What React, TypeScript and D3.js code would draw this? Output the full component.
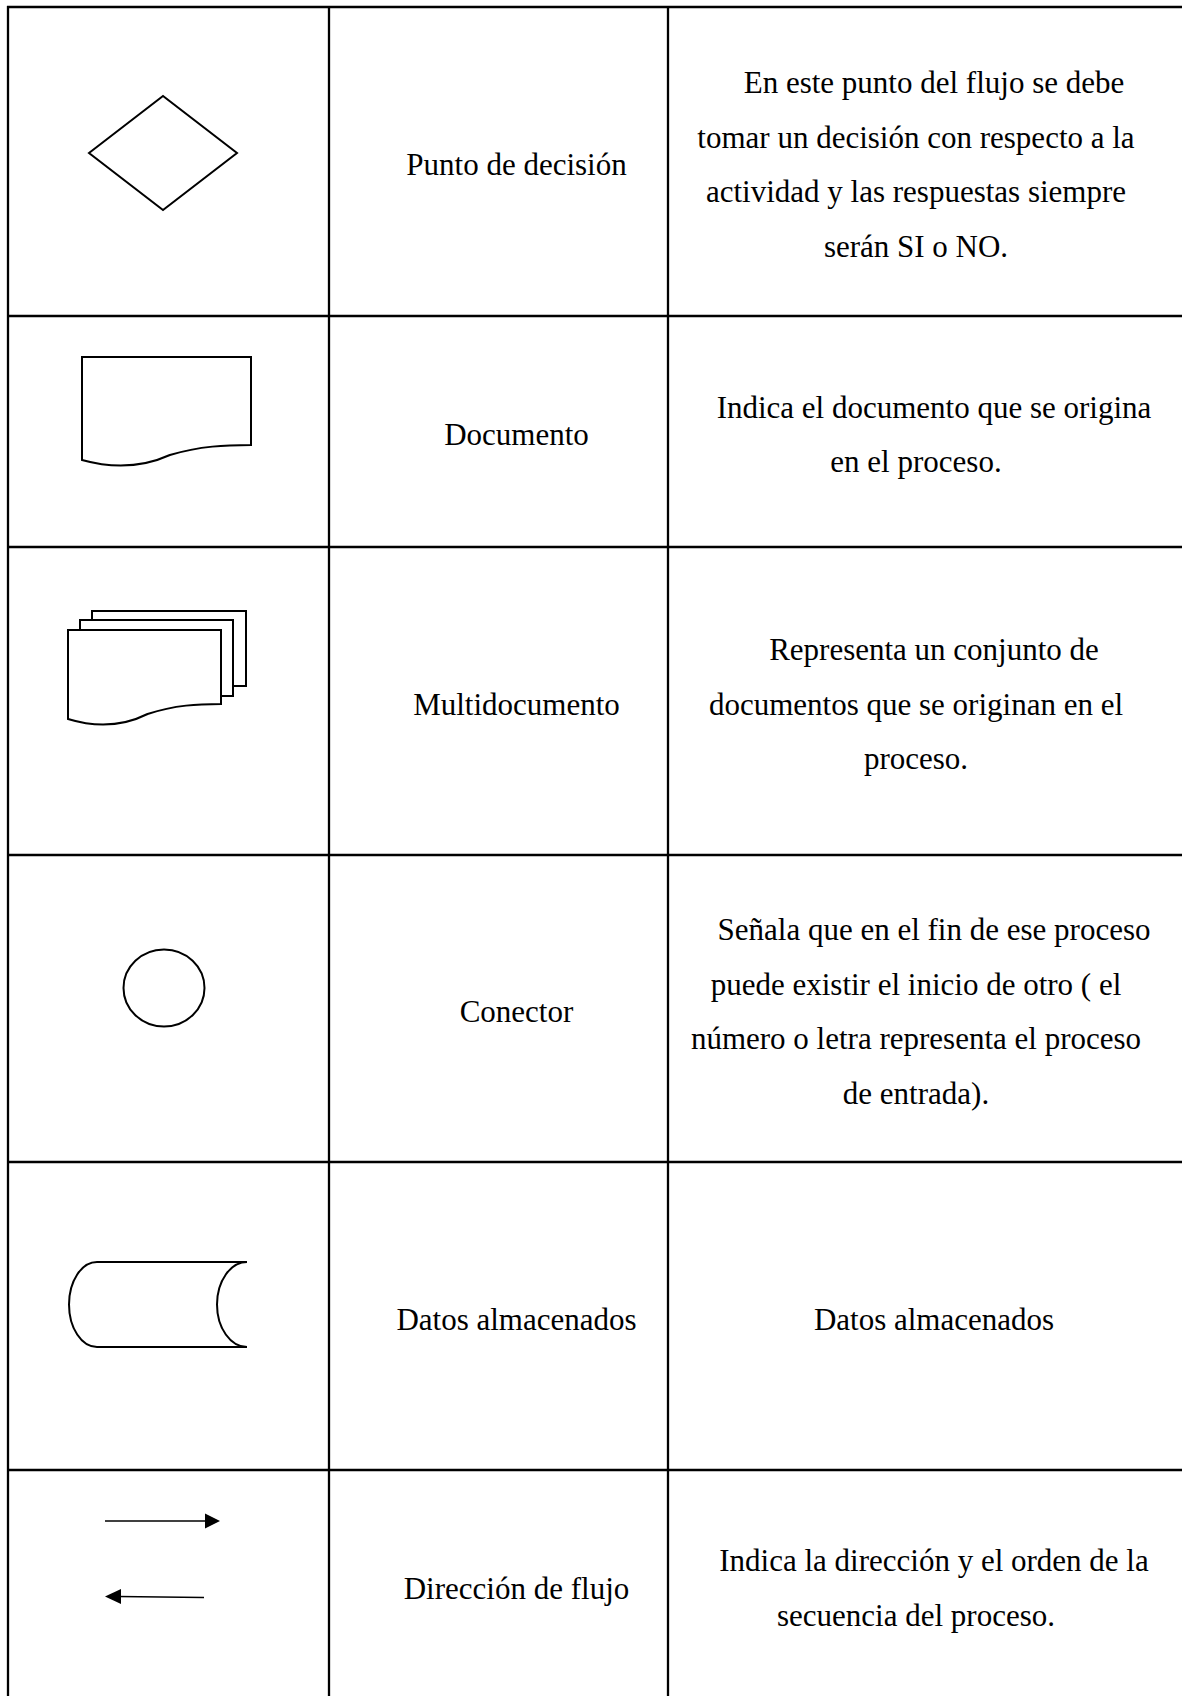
import React, { useEffect, useRef } from "react";
import * as d3 from "d3";

// table content
const symbols = ["decision", "document", "multidocument", "connector", "storedData", "flow"];

const names = [
  "Punto de decisión",
  "Documento",
  "Multidocumento",
  "Conector",
  "Datos almacenados",
  "Dirección de flujo",
];

const descriptions = [
  [
    "En este punto del flujo se debe",
    "tomar un decisión con respecto a la",
    "actividad y las respuestas siempre",
    "serán SI o NO.",
  ],
  ["Indica el documento que se origina", "en el proceso."],
  ["Representa un conjunto de", "documentos que se originan en el", "proceso."],
  [
    "Señala que en el fin de ese proceso",
    "puede existir el inicio de otro ( el",
    "número o letra representa el proceso",
    "de entrada).",
  ],
  ["Datos almacenados"],
  ["Indica la dirección y el orden de la", "secuencia del proceso."],
];

// layout of the grid
const rowEdges = [7, 316, 547, 855, 1162, 1470, 1700];
const colEdges = [8, 329, 668, 1200];
const descCenter = 916;
const lineGap = 54.5;
const indent = 18;

// wavy bottom of a document sheet, local coords
function docPath(x0, x1, top, yRight, yLeft) {
  const w = x1 - x0;
  const p = d3.path();
  p.moveTo(x0, top);
  p.lineTo(x1, top);
  p.lineTo(x1, yRight);
  p.bezierCurveTo(x1 - w * 0.15, yRight, x1 - w * 0.3, yRight + 1, x0 + w * 0.52, yRight + 10);
  p.bezierCurveTo(x0 + w * 0.35, yLeft + 8, x0 + w * 0.17, yLeft + 8, x0, yLeft);
  p.closePath();
  return p.toString();
}

function drawSymbol(g, kind) {
  const stroke = (sel, w = 2) =>
    sel.attr("fill", "#fff").attr("stroke", "#000").attr("stroke-width", w);

  if (kind === "decision") {
    const pts = [[81, 146], [155, 89], [229, 146], [155, 203]];
    g.append("path").attr("d", d3.line()(pts) + "Z").call(stroke);
  } else if (kind === "document") {
    g.append("path").attr("d", docPath(74, 243, 41, 129, 144)).call(stroke);
  } else if (kind === "multidocument") {
    g.append("rect").attr("x", 84).attr("y", 64).attr("width", 154).attr("height", 75).call(stroke);
    g.append("rect").attr("x", 72).attr("y", 73).attr("width", 153).attr("height", 76).call(stroke);
    g.append("path").attr("d", docPath(60, 213, 83, 157, 172)).call(stroke);
  } else if (kind === "connector") {
    g.append("ellipse").attr("cx", 156).attr("cy", 133).attr("rx", 40.5).attr("ry", 38.5).call(stroke);
  } else if (kind === "storedData") {
    const d = "M89,100 L239,100 A30,42.5 0 0 0 239,185 L89,185 A28,42.5 0 0 1 89,100";
    g.append("path").attr("d", d).call(stroke).attr("fill", "none");
  } else if (kind === "flow") {
    const line = d3.line();
    g.append("path").attr("d", line([[97, 51], [200, 51]])).attr("stroke", "#000").attr("stroke-width", 1.5);
    g.append("path").attr("d", line([[197, 43.5], [212, 51], [197, 58.5]]) + "Z").attr("fill", "#000");
    g.append("path").attr("d", line([[196, 127.5], [110, 126.5]])).attr("stroke", "#000").attr("stroke-width", 1.5);
    g.append("path").attr("d", line([[113, 119], [97, 126.5], [113, 134]]) + "Z").attr("fill", "#000");
  }
}

function SymbolTable() {
  const ref = useRef(null);

  useEffect(() => {
    const svg = d3.select(ref.current);
    svg.selectAll("*").remove();

    const font = "'Liberation Serif', 'Times New Roman', serif";
    const size = "31px";

    const rows = svg
      .selectAll("g.row")
      .data(symbols)
      .join("g")
      .attr("class", "row")
      .attr("transform", (d, i) => `translate(${colEdges[0]}, ${rowEdges[i]})`);

    rows.each(function (d) {
      drawSymbol(d3.select(this), d);
    });

    // middle column names
    svg
      .selectAll("text.name")
      .data(names)
      .join("text")
      .attr("class", "name")
      .attr("x", (colEdges[1] + colEdges[2]) / 2 + indent)
      .attr("y", (d, i) => (rowEdges[i] + rowEdges[i + 1]) / 2 + 13.5)
      .attr("text-anchor", "middle")
      .style("font-family", font)
      .style("font-size", size)
      .text((d) => d);

    // description column
    descriptions.forEach((lines, i) => {
      const mid = (rowEdges[i] + rowEdges[i + 1]) / 2 + 13.5;
      const first = mid - ((lines.length - 1) * lineGap) / 2;
      svg
        .append("g")
        .selectAll("text")
        .data(lines)
        .join("text")
        .attr("x", (d, j) => descCenter + (j === 0 ? indent : 0))
        .attr("y", (d, j) => first + j * lineGap)
        .attr("text-anchor", "middle")
        .style("font-family", font)
        .style("font-size", size)
        .text((d) => d);
    });

    // grid lines
    const grid = svg.append("g").attr("stroke", "#000").attr("stroke-width", 2.3);
    rowEdges.forEach((y) => {
      grid.append("line").attr("x1", colEdges[0] - 1).attr("x2", colEdges[3]).attr("y1", y).attr("y2", y);
    });
    colEdges.forEach((x) => {
      grid.append("line").attr("x1", x).attr("x2", x).attr("y1", rowEdges[0] - 1).attr("y2", rowEdges[6]);
    });
  }, []);

  return <svg ref={ref} width={1182} height={1696} style={{ display: "block" }}></svg>;
}

export default function App() {
  return (
    <div style={{ position: "absolute", left: 0, top: 0, background: "#fff" }}>
      <SymbolTable />
    </div>
  );
}
